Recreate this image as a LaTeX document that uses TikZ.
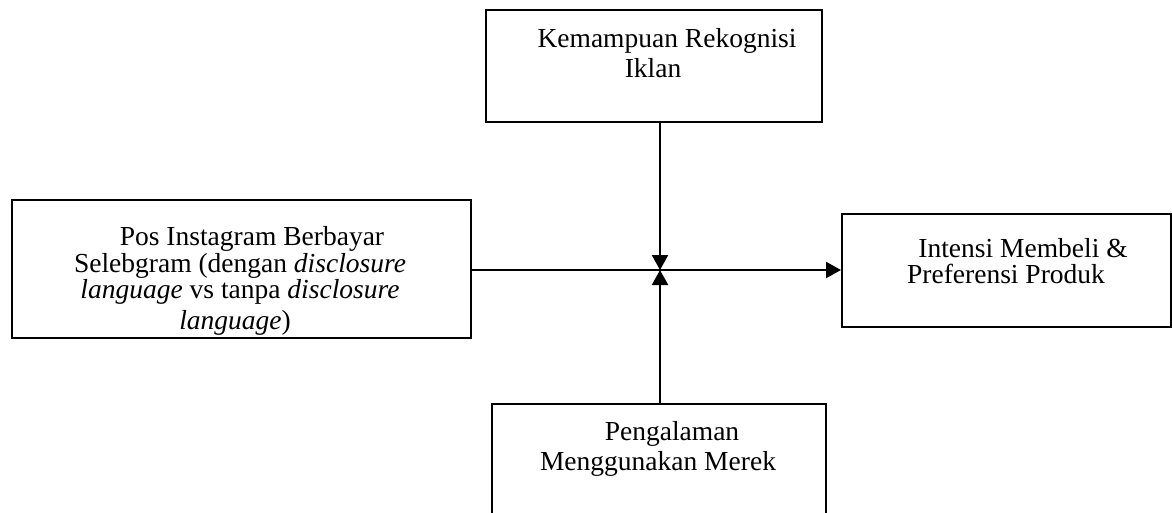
\documentclass[tikz,border=0pt]{standalone}
\usepackage{fontspec}
\setmainfont{Liberation Serif}
\usetikzlibrary{arrows.meta}
\begin{document}
\begin{tikzpicture}[x=1pt,y=-1pt,
 box/.style={draw, line width=1.8pt, rectangle, inner sep=0pt, anchor=north west},
 txt/.style={font=\fontsize{27.5}{27.5}\selectfont, inner sep=0pt, anchor=base},
 conn/.style={line width=2.3pt, -{Triangle[length=15pt,width=16pt]}}]
\useasboundingbox (0,0) rectangle (1172,512);
\clip (0,0) rectangle (1172,512);
% boxes
\node[box, minimum width=336pt, minimum height=112pt] (top) at (485,9) {};
\node[box, minimum width=459pt, minimum height=138pt] (left) at (11,199) {};
\node[box, minimum width=329pt, minimum height=113pt] (right) at (841,213) {};
\node[box, minimum width=334pt, minimum height=140pt] (bottom) at (491,403) {};
% texts
\node[txt] (t1) at (667,47) {Kemampuan Rekognisi};
\node[txt] (t2) at (653,77) {Iklan};
\begin{scope}
\clip (left.north west) rectangle (left.south east);
\node[txt] (l1) at (252,245) {Pos Instagram Berbayar};
\node[txt] (l2) at (240,272) {Selebgram (dengan \textit{disclosure}};
\node[txt] (l3) at (240,298) {\textit{language} vs tanpa \textit{disclosure}};
\node[txt] (l4) at (235,329) {\textit{language})};
\end{scope}
\node[txt] (r1) at (1023,257) {Intensi Membeli \&};
\node[txt] (r2) at (1006,283) {Preferensi Produk};
\node[txt] (b1) at (672,440) {Pengalaman};
\node[txt] (b2) at (658,470) {Menggunakan Merek};
% connectors
\coordinate (m) at (660,270);
\draw[conn] (left.east |- m) -- (right.west |- m);
\draw[conn] (top.south -| m) -- (m);
\draw[conn] (bottom.north -| m) -- (m);
\end{tikzpicture}
\end{document}
